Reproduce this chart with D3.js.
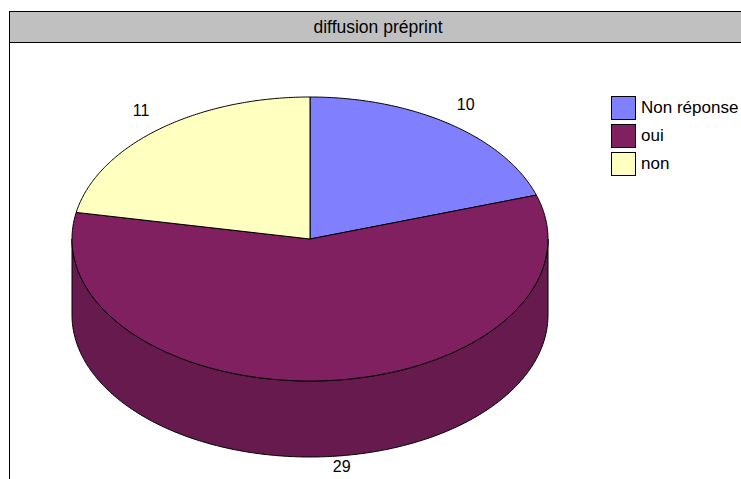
<!DOCTYPE html>
<html>
<head>
<meta charset="utf-8">
<script src="https://cdn.jsdelivr.net/npm/d3@7"></script>
<style>
  body { margin: 0; background: #fff; }
  svg { display: block; font-family: "Liberation Sans", Arial, sans-serif; }
</style>
</head>
<body>
<svg id="chart" width="741" height="479"></svg>
<script>
var title = "diffusion préprint";
var categories = ["Non réponse", "oui", "non"];
var values = [10, 29, 11];
var topColors = ["#8080FF", "#802060", "#FFFFC0"];
var sideColors = ["#6666CC", "#661A4D", "#CCCC99"];

var svg = d3.select("#chart");
var W = 741, H = 479;

// frame + title bar
svg.append("rect")
    .attr("x", 9.5).attr("y", 11.5)
    .attr("width", W).attr("height", 31)
    .attr("fill", "#C0C0C0")
    .attr("stroke", "#000");
svg.append("line")
    .attr("x1", 9.5).attr("x2", 9.5)
    .attr("y1", 11).attr("y2", H)
    .attr("stroke", "#000");
svg.append("text")
    .attr("x", 378).attr("y", 33)
    .attr("text-anchor", "middle")
    .style("font-size", "17.5px")
    .text(title);

// pie geometry
var cx = 310, cy = 239, rx = 238, ry = 142, depth = 76;

var pie = d3.pie().sort(null).value(d => d);
var arcs = pie(values);
var color = d3.scaleOrdinal().domain(categories).range(topColors);
var sideColor = d3.scaleOrdinal().domain(categories).range(sideColors);

function pt(a, dy) {
    return [cx + rx * Math.sin(a), cy - ry * Math.cos(a) + (dy || 0)];
}
function arcPoints(a0, a1, dy) {
    var n = Math.max(2, Math.ceil(Math.abs(a1 - a0) / 0.01));
    return d3.range(n + 1).map(i => pt(a0 + (a1 - a0) * i / n, dy));
}
var line = d3.line();

var plot = svg.append("g");

// side walls (front half only: angles PI/2 .. 3PI/2)
arcs.forEach(function (d, i) {
    var a0 = Math.max(d.startAngle, Math.PI / 2);
    var a1 = Math.min(d.endAngle, 3 * Math.PI / 2);
    if (a1 <= a0) return;
    var pts = arcPoints(a0, a1, 0).concat(arcPoints(a1, a0, depth));
    plot.append("path")
        .attr("d", line(pts) + "Z")
        .attr("fill", sideColor(categories[i]))
        .attr("stroke", "#000")
        .attr("stroke-width", 1);
});

// top faces
arcs.forEach(function (d, i) {
    var pts = [[cx, cy]].concat(arcPoints(d.startAngle, d.endAngle, 0));
    plot.append("path")
        .attr("d", line(pts) + "Z")
        .attr("fill", color(categories[i]))
        .attr("stroke", "#000")
        .attr("stroke-width", 1)
        .attr("stroke-linejoin", "round");
});

// value labels
arcs.forEach(function (d, i) {
    var mid = (d.startAngle + d.endAngle) / 2;
    var lx = cx + (rx + 27) * Math.sin(mid);
    var ly = cy - (ry + 25) * Math.cos(mid);
    if (Math.cos(mid) < 0) {
        ly += -Math.cos(mid) * 60;
        lx += 15;
    }
    plot.append("text")
        .attr("x", lx).attr("y", ly + 6)
        .attr("text-anchor", "middle")
        .style("font-size", "16px")
        .text(values[i]);
});

// legend
var legend = svg.append("g").attr("transform", "translate(611,96)");
categories.forEach(function (c, i) {
    var g = legend.append("g").attr("transform", "translate(0," + (i * 28) + ")");
    g.append("rect")
        .attr("x", 0.5).attr("y", 0.5)
        .attr("width", 24).attr("height", 23)
        .attr("fill", color(c))
        .attr("stroke", "#000");
    g.append("text")
        .attr("x", 30).attr("y", 17)
        .style("font-size", "17px")
        .text(c);
});
</script>
</body>
</html>
